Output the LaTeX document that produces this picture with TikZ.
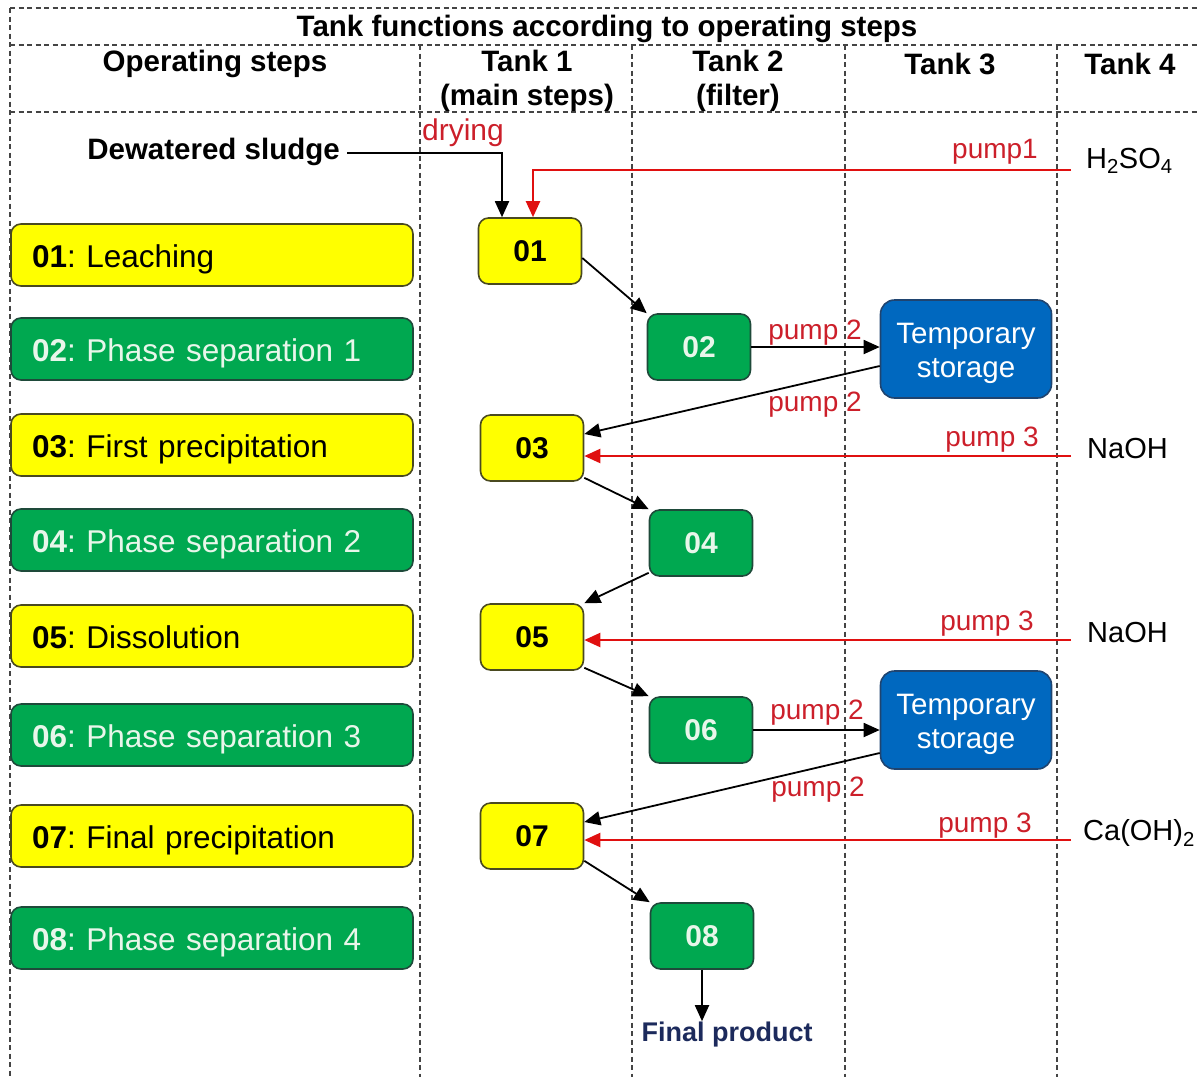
\documentclass[tikz,border=0pt]{standalone}
\usepackage{fontspec}
\setmainfont{Liberation Sans}
\usetikzlibrary{arrows.meta}
\definecolor{stepyellow}{HTML}{FFFF00}
\definecolor{stepgreen}{HTML}{00A850}
\definecolor{storeblue}{HTML}{0068BF}
\definecolor{pumpred}{HTML}{E01010}
\definecolor{labelred}{HTML}{CC1F2A}
\definecolor{navy}{HTML}{1C2A5C}
\definecolor{yedge}{HTML}{4A4A20}
\definecolor{gedge}{HTML}{1E4A3A}
\definecolor{bedge}{HTML}{1F4470}
\definecolor{lighttext}{HTML}{E8F6EA}
\definecolor{gridgrey}{HTML}{444444}
\frenchspacing

\begin{document}
\begin{tikzpicture}[x=1pt,y=-1pt,
  gridline/.style={draw=gridgrey, line width=1.1pt, dash pattern=on 5pt off 3.5pt},
  boxbase/.style={rounded corners=10pt, line width=1.6pt, inner sep=0pt},
  yellowstep/.style={boxbase, fill=stepyellow, draw=yedge, minimum width=402pt,
    minimum height=62pt, text width=360pt, align=left,
    text height=28pt, text depth=4pt,
    font=\fontsize{31.5}{36}\selectfont},
  greenstep/.style={yellowstep, fill=stepgreen, draw=gedge, text=lighttext},
  yellowtank/.style={boxbase, fill=stepyellow, draw=yedge, minimum width=103pt,
    minimum height=66pt, font=\fontsize{30}{36}\selectfont\bfseries},
  greentank/.style={yellowtank, fill=stepgreen, draw=gedge, text=lighttext},
  storebox/.style={boxbase, rounded corners=14pt, fill=storeblue, draw=bedge,
    minimum width=171pt, minimum height=98pt},
  storetext/.style={text=white, align=center, inner sep=0pt, yshift=-4pt,
    font=\fontsize{29.5}{34}\selectfont},
  headtext/.style={align=center, font=\fontsize{29.5}{34}\selectfont\bfseries},
  pumplabel/.style={text=labelred, font=\fontsize{28}{32}\selectfont, inner sep=0pt},
  chemtext/.style={anchor=west, inner sep=0pt, font=\fontsize{29}{34}\selectfont},
  flow/.style={draw=black, line width=1.8pt, -{Triangle[length=16pt,width=14pt]}},
  redflow/.style={draw=pumpred, line width=2.2pt, -{Triangle[length=16pt,width=14pt]}}
]
\useasboundingbox (0,0) rectangle (1198,1077);

% table grid
\draw[gridline] (10,8) -- (1198,8);
\draw[gridline] (10,45) -- (1198,45);
\draw[gridline] (10,112) -- (1198,112);
\draw[gridline] (10,8) -- (10,1077);
\foreach \gx in {420,632,845,1057}
  \draw[gridline] (\gx,45) -- (\gx,1077);

% headers
\node[headtext] (title) at (607,29) {Tank functions according to operating steps};
\node[headtext] (hsteps) at (215,64) {Operating steps};
\node[headtext, anchor=north] (htank1) at (527,47) {Tank 1\\(main steps)};
\node[headtext, anchor=north] (htank2) at (738,47) {Tank 2\\(filter)};
\node[headtext] (htank3) at (950,64) {Tank 3};
\node[headtext] (htank4) at (1130,64) {Tank 4};

% operating steps column
\node[yellowstep] (s01) at (212,255) {\textbf{01}: Leaching};
\node[greenstep] (s02) at (212,349) {\textbf{02}: Phase separation 1};
\node[yellowstep] (s03) at (212,445) {\textbf{03}: First precipitation};
\node[greenstep] (s04) at (212,540) {\textbf{04}: Phase separation 2};
\node[yellowstep] (s05) at (212,636) {\textbf{05}: Dissolution};
\node[greenstep] (s06) at (212,735) {\textbf{06}: Phase separation 3};
\node[yellowstep] (s07) at (212,836) {\textbf{07}: Final precipitation};
\node[greenstep] (s08) at (212,938) {\textbf{08}: Phase separation 4};

% tanks
\node[yellowtank] (t1) at (530,251) {01};
\node[greentank] (t2) at (699,347) {02};
\node[yellowtank] (t3) at (532,448) {03};
\node[greentank] (t4) at (701,543) {04};
\node[yellowtank] (t5) at (532,637) {05};
\node[greentank] (t6) at (701,730) {06};
\node[yellowtank] (t7) at (532,836) {07};
\node[greentank] (t8) at (702,936) {08};
\node[storebox, label={[storetext]center:Temporary\\storage}] (st1) at (966,349) {};
\node[storebox, label={[storetext]center:Temporary\\storage}] (st2) at (966,720) {};

% inputs
\node[font=\fontsize{29.5}{34}\selectfont\bfseries, anchor=east, inner sep=0pt] (sludge) at (340,152) {Dewatered sludge};
\coordinate (sl) at (347,153);
\node[chemtext] (acid) at (1086,161) {H\textsubscript{2}SO\textsubscript{4}};
\node[chemtext] (base1) at (1087,449) {NaOH};
\node[chemtext] (base2) at (1087,633) {NaOH};
\node[chemtext] (lime) at (1083,833) {Ca(OH)\textsubscript{2}};
\coordinate (a1) at (1071,170);
\coordinate (b1) at (1071,456);
\coordinate (b2) at (1071,640);
\coordinate (c1) at (1071,840);
\node[font=\fontsize{27}{32}\selectfont\bfseries, text=navy, inner sep=0pt] (final) at (727,1034) {Final product};

% feed lines
\draw[flow] (sl) -| ([xshift=-28pt]t1.north);
\draw[redflow] (a1) -| ([xshift=3pt]t1.north);
\draw[redflow] (b1) -- (t3.east |- b1);
\draw[redflow] (b2) -- (t5.east |- b2);
\draw[redflow] (c1) -- (t7.east |- c1);

% process flow
\draw[flow] ([yshift=-7pt]t1.east) -- (t2.north west);
\draw[flow] (t2.east) -- (t2.east -| st1.west);
\draw[flow] ([yshift=-17pt]st1.west) -- ([yshift=14pt]t3.east);
\draw[flow] ([yshift=4pt]t3.south east) -- (t4.north west);
\draw[flow] ([yshift=4pt]t4.south west) -- (t5.north east);
\draw[flow] ([yshift=3pt]t5.south east) -- (t6.north west);
\draw[flow] (t6.east) -- (t6.east -| st2.west);
\draw[flow] ([yshift=-33pt]st2.west) -- ([yshift=14pt]t7.east);
\draw[flow] ([yshift=9pt]t7.south east) -- (t8.north west);
\draw[flow] (t8.south) -- (t8.south |- final.north) ;

% labels
\node[pumplabel, font=\fontsize{30}{34}\selectfont] (ldry) at (463,133) {drying};
\node[pumplabel] (lp1) at (995,152) {pump1};
\node[pumplabel] (lp2a) at (815,333) {pump 2};
\node[pumplabel] (lp2b) at (815,405) {pump 2};
\node[pumplabel] (lp3a) at (992,440) {pump 3};
\node[pumplabel] (lp3b) at (987,624) {pump 3};
\node[pumplabel] (lp2c) at (817,713) {pump 2};
\node[pumplabel] (lp2d) at (818,790) {pump 2};
\node[pumplabel] (lp3c) at (985,826) {pump 3};
\end{tikzpicture}
\end{document}
